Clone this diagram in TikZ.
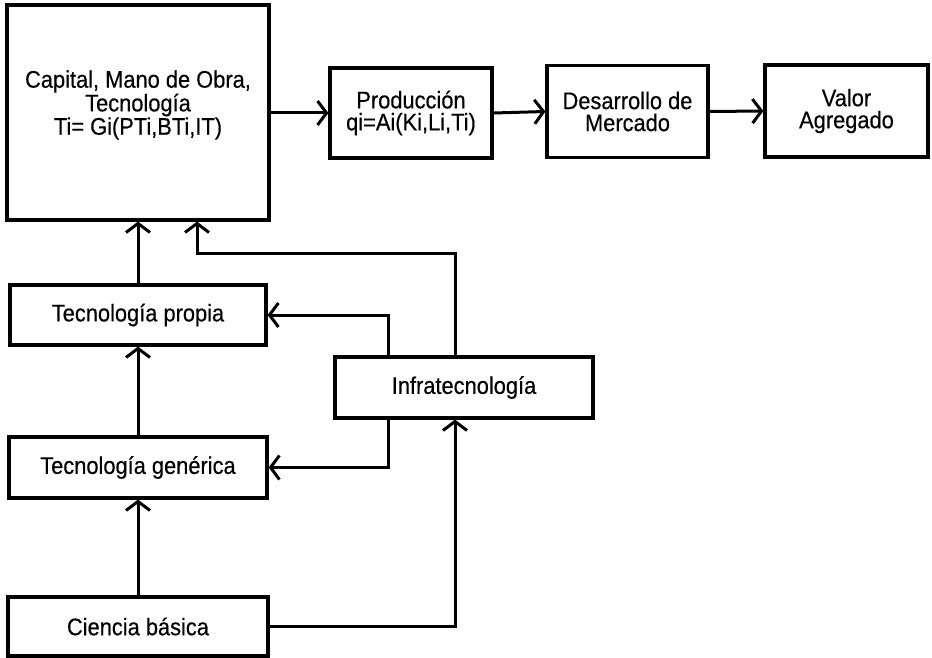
\documentclass[tikz,border=0pt]{standalone}
\usepackage{fontspec}
\setmainfont{Liberation Sans}[FakeStretch=0.91, FakeBold=0.4]
\usetikzlibrary{arrows.meta}

\begin{document}
\begin{tikzpicture}[x=1pt, y=-1pt,
    box/.style={draw, line width=3.2pt, align=center, inner sep=2pt,
        font=\fontsize{24}{20}\selectfont},
    arr/.style={line width=3pt, -{Straight Barb[length=9pt, width=24pt]}}]

    \useasboundingbox (0,0) rectangle (932,658);

    % Top row of boxes
    \node[box, minimum width=262, minimum height=215] (big) at (138,112.5)
        {Capital, Mano de Obra,\\ Tecnología\\ Ti= Gi(PTi,BTi,IT)\\ \mbox{}};
    \node[box, minimum width=162, minimum height=90] (prod) at (411,113)
        {Producción\\[2pt] qi=Ai(Ki,Li,Ti)};
    \node[box, minimum width=161, minimum height=92] (des) at (627.5,111.5)
        {Desarrollo de\\[2pt] Mercado};
    \node[box, minimum width=163, minimum height=92] (valor) at (846.5,111)
        {Valor\\[2pt] Agregado};

    % Left column and infratechnology
    \node[box, minimum width=256, minimum height=60] (propia) at (138,315) {Tecnología propia};
    \node[box, minimum width=258, minimum height=61] (gen) at (138,467.5) {Tecnología genérica};
    \node[box, minimum width=260, minimum height=59] (cien) at (138,626.5) {Ciencia básica};
    \node[box, minimum width=258, minimum height=61] (infra) at (464,387.5) {Infratecnología};

    % Helper coordinates for the bent connectors
    \coordinate (xa) at (388,0);
    \coordinate (xb) at (455,0);
    \coordinate (xc) at (197,0);
    \coordinate (yl) at (0,253);

    % Top row arrows
    \draw[arr] (big.east |- prod.west) -- (prod.west);
    \draw[arr] (prod.east) -- (des.west);
    \draw[arr] (des.east) -- (valor.west);

    % Left column arrows
    \draw[arr] (cien.north) -- (gen.south);
    \draw[arr] (gen.north) -- (propia.south);
    \draw[arr] (propia.north) -- (big.south);

    % Connectors from and to the infratechnology box
    \draw[arr] (infra.north -| xb) |- (yl -| xc) -- (big.south -| xc);
    \draw[arr] (infra.north -| xa) |- (propia.east);
    \draw[arr] (infra.south -| xa) |- (gen.east);
    \draw[arr] (cien.east) -| (infra.south -| xb);

\end{tikzpicture}
\end{document}
